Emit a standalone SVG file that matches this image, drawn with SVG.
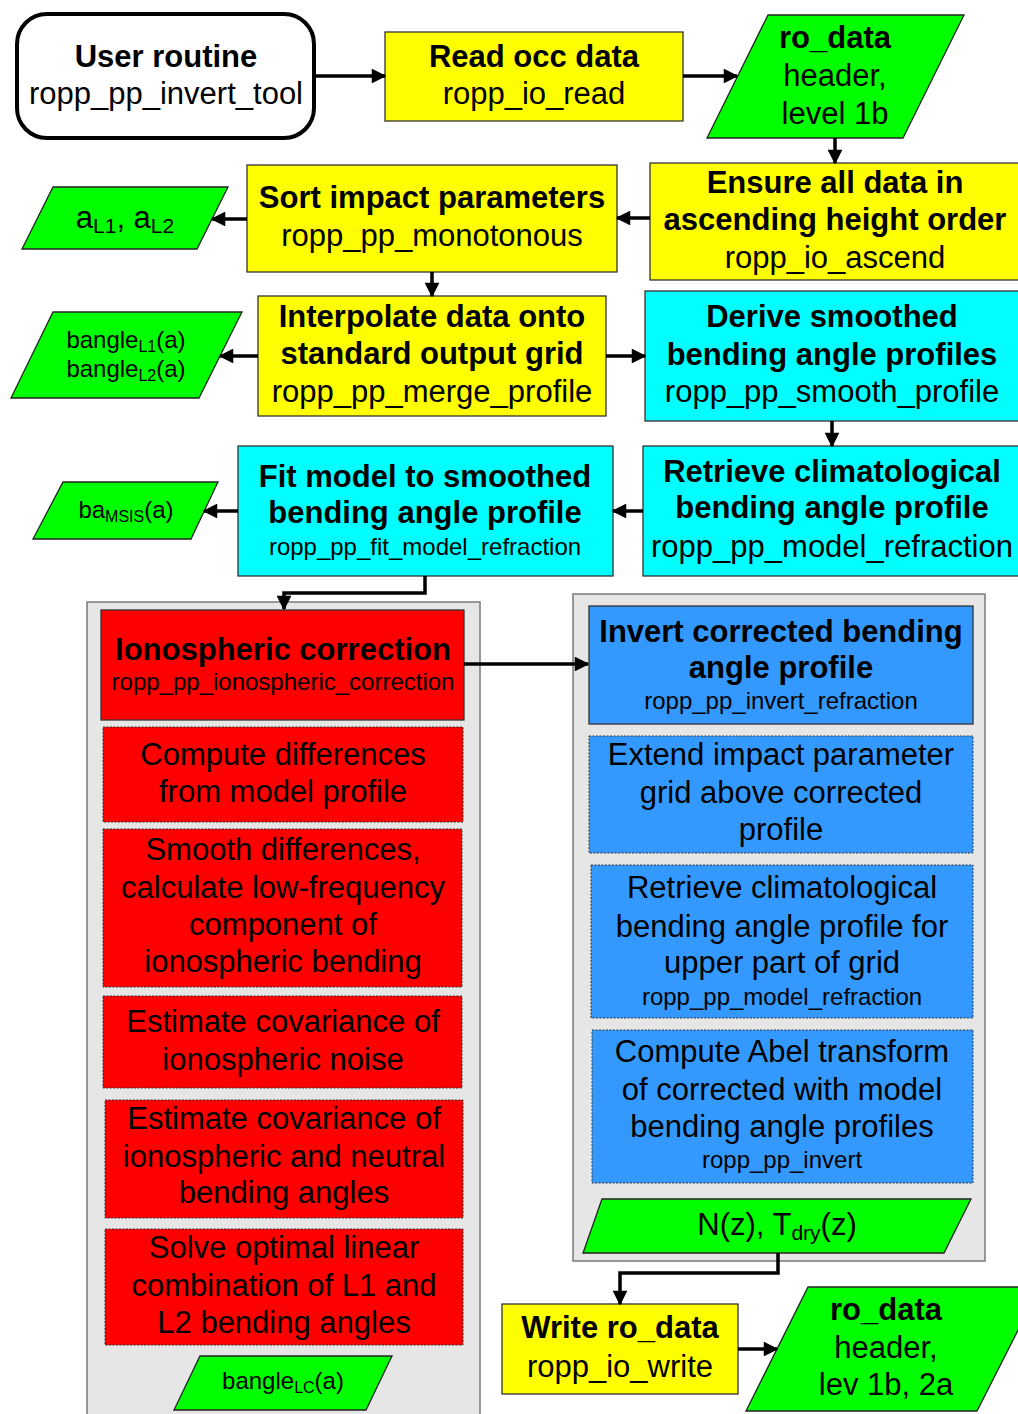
<svg xmlns="http://www.w3.org/2000/svg" width="1018" height="1414" viewBox="0 0 1018 1414">
<style>
text{font-family:"Liberation Sans",Arial,sans-serif;font-size:31px;fill:#000;text-anchor:middle}
.b{font-weight:bold}
.s{font-size:24px}
.box{stroke:#333;stroke-width:1.3}
.dash{stroke:#333;stroke-width:1;stroke-dasharray:2 1.5}
.y{fill:#FFFF00}.c{fill:#00FFFF}.r{fill:#FF0000}.bl{fill:#3399FF}.g{fill:#00FF00;stroke:#222;stroke-width:1.3}
.cont{fill:#E6E6E6;stroke:#7a7a7a;stroke-width:1.5}
.con{fill:none;stroke:#000;stroke-width:3.5;marker-end:url(#ah)}
</style>
<defs>
<marker id="ah" viewBox="0 0 10 10" refX="9" refY="5" markerWidth="4.5" markerHeight="4.2" orient="auto">
<path d="M0,0 L10,5 L0,10 z" fill="#000"/>
</marker>
</defs>
<rect width="1018" height="1414" fill="#fff"/>

<g id="containers">
<rect id="iono_group" class="cont" x="87" y="602" width="393" height="830"/>
<rect id="invert_group" class="cont" x="573" y="594" width="412" height="667"/>
</g>

<g id="user_routine">
<rect x="17" y="14" width="297" height="124" rx="30" fill="#fff" stroke="#000" stroke-width="4"/>
<text x="166" y="67" class="b">User routine</text>
<text x="166" y="104">ropp_pp_invert_tool</text>
</g>

<g id="read_occ">
<rect class="box y" x="385" y="32" width="298" height="89"/>
<text x="534" y="67" class="b">Read occ data</text>
<text x="534" y="104">ropp_io_read</text>
</g>

<g id="ro_data_in">
<polygon class="g" points="768,15 964,15 903,138 707,138"/>
<text x="835" y="48" class="b">ro_data</text>
<text x="835" y="86">header,</text>
<text x="835" y="124">level 1b</text>
</g>

<g id="ensure">
<rect class="box y" x="650" y="163" width="372" height="117"/>
<text x="835" y="193" class="b">Ensure all data in</text>
<text x="835" y="230" class="b">ascending height order</text>
<text x="835" y="268">ropp_io_ascend</text>
</g>

<g id="sort">
<rect class="box y" x="247" y="165" width="370" height="107"/>
<text x="432" y="208" class="b">Sort impact parameters</text>
<text x="432" y="246">ropp_pp_monotonous</text>
</g>

<g id="a_l1_l2">
<polygon class="g" points="53,187 228,187 197,249 22,249"/>
<text x="125" y="228">a<tspan font-size="21" dy="5">L1</tspan><tspan dy="-5">, a</tspan><tspan font-size="21" dy="5">L2</tspan></text>
</g>

<g id="interpolate">
<rect class="box y" x="258" y="296" width="348" height="120"/>
<text x="432" y="327" class="b">Interpolate data onto</text>
<text x="432" y="364" class="b">standard output grid</text>
<text x="432" y="402">ropp_pp_merge_profile</text>
</g>

<g id="bangle_l1_l2">
<polygon class="g" points="53,312 242,312 199,398 11,398"/>
<text x="126" y="348" class="s">bangle<tspan font-size="16" dy="4">L1</tspan><tspan dy="-4">(a)</tspan></text>
<text x="126" y="377" class="s">bangle<tspan font-size="16" dy="4">L2</tspan><tspan dy="-4">(a)</tspan></text>
</g>

<g id="derive">
<rect class="box c" x="645" y="291" width="377" height="130"/>
<text x="832" y="327" class="b">Derive smoothed</text>
<text x="832" y="365" class="b">bending angle profiles</text>
<text x="832" y="402">ropp_pp_smooth_profile</text>
</g>

<g id="retrieve_clim">
<rect class="box c" x="643" y="446" width="379" height="130"/>
<text x="832" y="482" class="b">Retrieve climatological</text>
<text x="832" y="518" class="b">bending angle profile</text>
<text x="832" y="557">ropp_pp_model_refraction</text>
</g>

<g id="fit_model">
<rect class="box c" x="238" y="446" width="375" height="130"/>
<text x="425" y="487" class="b">Fit model to smoothed</text>
<text x="425" y="523" class="b">bending angle profile</text>
<text x="425" y="555" class="s">ropp_pp_fit_model_refraction</text>
</g>

<g id="ba_msis">
<polygon class="g" points="63,482 218,482 191,539 33,539"/>
<text x="126" y="518" class="s">ba<tspan font-size="16" dy="4">MSIS</tspan><tspan dy="-4">(a)</tspan></text>
</g>

<g id="iono_correction">
<rect class="box r" x="101" y="610" width="363" height="110"/>
<text x="283" y="660" class="b">Ionospheric correction</text>
<text x="283" y="690" class="s">ropp_pp_ionospheric_correction</text>
</g>

<g id="compute_diff">
<rect class="dash r" x="103" y="727" width="360" height="95"/>
<text x="283" y="765">Compute differences</text>
<text x="283" y="802">from model profile</text>
</g>

<g id="smooth_diff">
<rect class="dash r" x="103" y="829" width="359" height="158"/>
<text x="283" y="860">Smooth differences,</text>
<text x="283" y="898">calculate low-frequency</text>
<text x="283" y="935">component of</text>
<text x="283" y="972">ionospheric bending</text>
</g>

<g id="est_cov_noise">
<rect class="dash r" x="103" y="996" width="359" height="92"/>
<text x="283" y="1032">Estimate covariance of</text>
<text x="283" y="1070">ionospheric noise</text>
</g>

<g id="est_cov_neutral">
<rect class="dash r" x="105" y="1100" width="358" height="118"/>
<text x="284" y="1129">Estimate covariance of</text>
<text x="284" y="1167">ionospheric and neutral</text>
<text x="284" y="1203">bending angles</text>
</g>

<g id="solve_optimal">
<rect class="dash r" x="105" y="1229" width="358" height="116"/>
<text x="284" y="1258">Solve optimal linear</text>
<text x="284" y="1296">combination of L1 and</text>
<text x="284" y="1333">L2 bending angles</text>
</g>

<g id="bangle_lc">
<polygon class="g" points="200,1356 392,1356 366,1410 174,1410"/>
<text x="283" y="1389" class="s">bangle<tspan font-size="16" dy="4">LC</tspan><tspan dy="-4">(a)</tspan></text>
</g>

<g id="invert_refraction">
<rect class="box bl" x="589" y="606" width="384" height="118"/>
<text x="781" y="642" class="b">Invert corrected bending</text>
<text x="781" y="678" class="b">angle profile</text>
<text x="781" y="709" class="s">ropp_pp_invert_refraction</text>
</g>

<g id="extend_grid">
<rect class="dash bl" x="589" y="736" width="384" height="117"/>
<text x="781" y="765">Extend impact parameter</text>
<text x="781" y="803">grid above corrected</text>
<text x="781" y="840">profile</text>
</g>

<g id="retrieve_upper">
<rect class="dash bl" x="591" y="865" width="382" height="153"/>
<text x="782" y="898">Retrieve climatological</text>
<text x="782" y="937">bending angle profile for</text>
<text x="782" y="973">upper part of grid</text>
<text x="782" y="1005" class="s">ropp_pp_model_refraction</text>
</g>

<g id="abel_transform">
<rect class="dash bl" x="592" y="1030" width="381" height="153"/>
<text x="782" y="1062">Compute Abel transform</text>
<text x="782" y="1100">of corrected with model</text>
<text x="782" y="1137">bending angle profiles</text>
<text x="782" y="1168" class="s">ropp_pp_invert</text>
</g>

<g id="n_tdry">
<polygon class="g" points="602,1199 971,1199 944,1253 583,1253"/>
<text x="777" y="1235">N(z), T<tspan font-size="21" dy="5">dry</tspan><tspan dy="-5">(z)</tspan></text>
</g>

<g id="write_ro_data">
<rect class="box y" x="502" y="1304" width="236" height="90"/>
<text x="620" y="1338" class="b">Write ro_data</text>
<text x="620" y="1377">ropp_io_write</text>
</g>

<g id="ro_data_out">
<polygon class="g" points="808,1287 1040,1287 977,1411 746,1411"/>
<text x="886" y="1320" class="b">ro_data</text>
<text x="886" y="1358">header,</text>
<text x="886" y="1395">lev 1b, 2a</text>
</g>

<g id="connectors">
<path class="con" d="M314,76 H385"/>
<path class="con" d="M683,76 H737"/>
<path class="con" d="M835,138 V163"/>
<path class="con" d="M650,218 H617"/>
<path class="con" d="M247,219 H212"/>
<path class="con" d="M432,272 V296"/>
<path class="con" d="M258,356 H220"/>
<path class="con" d="M606,356 H645"/>
<path class="con" d="M832,421 V446"/>
<path class="con" d="M643,511 H613"/>
<path class="con" d="M238,511 H204"/>
<path class="con" d="M425,576 V593 H284 V609"/>
<path class="con" d="M464,664 H588"/>
<path class="con" d="M778,1253 V1273 H620 V1304"/>
<path class="con" d="M738,1349 H777"/>
</g>
</svg>
